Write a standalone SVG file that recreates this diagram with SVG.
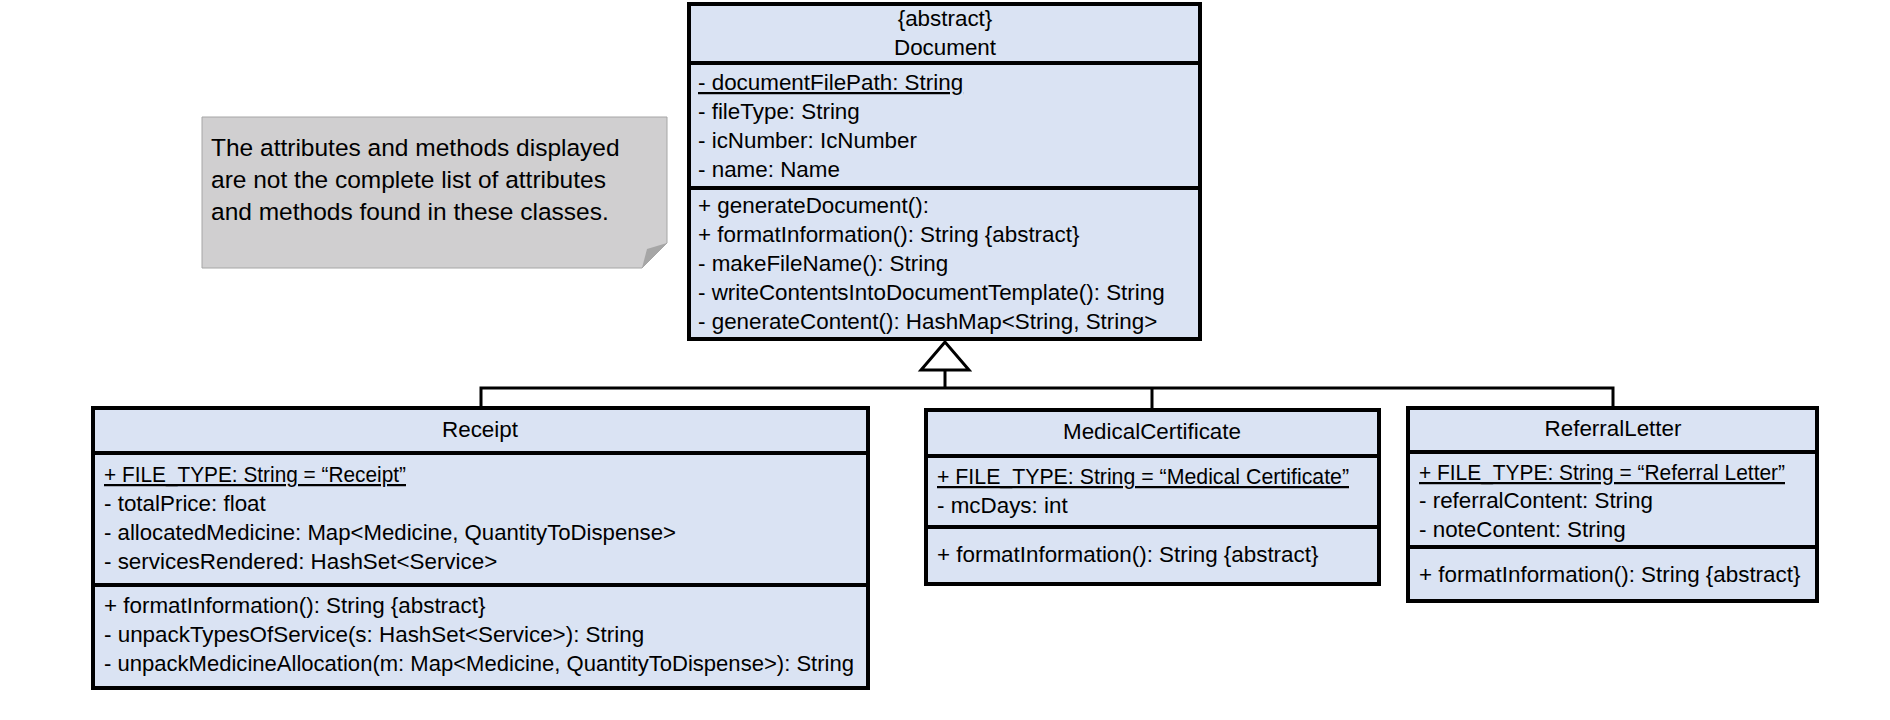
<svg xmlns="http://www.w3.org/2000/svg" width="1890" height="720" viewBox="0 0 1890 720">
<style>
.box{fill:#dae3f3;stroke:#000;stroke-width:4}
.div{stroke:#000;stroke-width:4}
.t{font-family:"Liberation Sans",Arial,sans-serif;font-size:22.4px;fill:#000}
.c{text-anchor:middle}
.u{text-decoration:underline}
.note{font-family:"Liberation Sans",Arial,sans-serif;font-size:24.5px;fill:#000}
.conn{stroke:#000;stroke-width:3;fill:none}
</style>
<rect width="1890" height="720" fill="#fff"/>

<g id="note">
<path d="M202,117 H667 V243 L642,268 H202 Z" fill="#d0cfd0" stroke="#a6a6a6" stroke-width="1"/>
<path d="M667,243 L642,268 L647,249 Z" fill="#a6a6a6"/>
<text class="note" x="211" y="156">The attributes and methods displayed</text>
<text class="note" x="211" y="188">are not the complete list of attributes</text>
<text class="note" x="211" y="220">and methods found in these classes.</text>
</g>

<g id="connectors">
<polyline class="conn" points="481,406 481,388 1613,388 1613,406"/>
<line class="conn" x1="1152" y1="388" x2="1152" y2="410"/>
<line class="conn" x1="945" y1="370" x2="945" y2="388"/>
<polygon points="945,342 921,370 969,370" fill="#fff" stroke="#000" stroke-width="3"/>
</g>

<g id="Document">
<rect class="box" x="689" y="4" width="511" height="335"/>
<line class="div" x1="689" y1="63" x2="1200" y2="63"/>
<line class="div" x1="689" y1="188" x2="1200" y2="188"/>
<text class="t c" x="945" y="26">{abstract}</text>
<text class="t c" x="945" y="55">Document</text>
<text class="t u" x="698" y="90">- documentFilePath: String</text>
<text class="t" x="698" y="119">- fileType: String</text>
<text class="t" x="698" y="148">- icNumber: IcNumber</text>
<text class="t" x="698" y="177">- name: Name</text>
<text class="t" x="698" y="213">+ generateDocument():</text>
<text class="t" x="698" y="242">+ formatInformation(): String {abstract}</text>
<text class="t" x="698" y="271">- makeFileName(): String</text>
<text class="t" x="698" y="300">- writeContentsIntoDocumentTemplate(): String</text>
<text class="t" x="698" y="329">- generateContent(): HashMap&lt;String, String&gt;</text>
</g>

<g id="Receipt">
<rect class="box" x="93" y="408" width="775" height="280"/>
<line class="div" x1="93" y1="453" x2="868" y2="453"/>
<line class="div" x1="93" y1="585" x2="868" y2="585"/>
<text class="t c" x="480" y="437">Receipt</text>
<text class="t u" x="104" y="482" textLength="302" lengthAdjust="spacingAndGlyphs">+ FILE_TYPE: String = “Receipt”</text>
<text class="t" x="104" y="511">- totalPrice: float</text>
<text class="t" x="104" y="540" textLength="572" lengthAdjust="spacingAndGlyphs">- allocatedMedicine: Map&lt;Medicine, QuantityToDispense&gt;</text>
<text class="t" x="104" y="569">- servicesRendered: HashSet&lt;Service&gt;</text>
<text class="t" x="104" y="613">+ formatInformation(): String {abstract}</text>
<text class="t" x="104" y="642">- unpackTypesOfService(s: HashSet&lt;Service&gt;): String</text>
<text class="t" x="104" y="671" textLength="750" lengthAdjust="spacingAndGlyphs">- unpackMedicineAllocation(m: Map&lt;Medicine, QuantityToDispense&gt;): String</text>
</g>

<g id="MedicalCertificate">
<rect class="box" x="926" y="410" width="453" height="174"/>
<line class="div" x1="926" y1="456" x2="1379" y2="456"/>
<line class="div" x1="926" y1="527" x2="1379" y2="527"/>
<text class="t c" x="1152" y="439">MedicalCertificate</text>
<text class="t u" x="937" y="484" textLength="412" lengthAdjust="spacingAndGlyphs">+ FILE_TYPE: String = “Medical Certificate”</text>
<text class="t" x="937" y="513">- mcDays: int</text>
<text class="t" x="937" y="562">+ formatInformation(): String {abstract}</text>
</g>

<g id="ReferralLetter">
<rect class="box" x="1408" y="408" width="409" height="193"/>
<line class="div" x1="1408" y1="452" x2="1817" y2="452"/>
<line class="div" x1="1408" y1="547" x2="1817" y2="547"/>
<text class="t c" x="1613" y="436">ReferralLetter</text>
<text class="t u" x="1419" y="480" textLength="366" lengthAdjust="spacingAndGlyphs">+ FILE_TYPE: String = “Referral Letter”</text>
<text class="t" x="1419" y="508">- referralContent: String</text>
<text class="t" x="1419" y="537">- noteContent: String</text>
<text class="t" x="1419" y="582">+ formatInformation(): String {abstract}</text>
</g>
</svg>
